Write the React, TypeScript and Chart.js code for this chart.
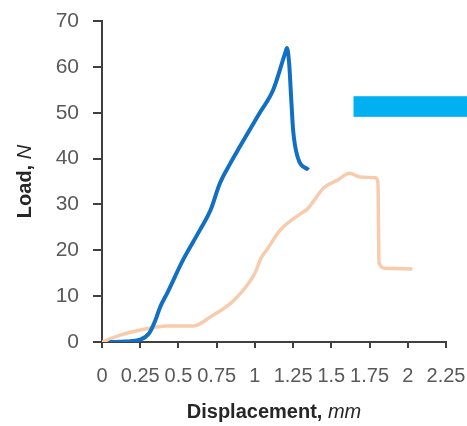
import React, { useEffect, useRef } from "react";
import { Chart, registerables } from "chart.js";

Chart.register(...registerables);

// Series A (blue): displacement (mm) / load (N)
const blueX = [0.05, 0.15, 0.25, 0.31, 0.35, 0.38, 0.43, 0.53, 0.64, 0.71, 0.77, 0.84, 0.9, 1.03, 1.12, 1.2, 1.21, 1.224, 1.237, 1.25, 1.28, 1.35];
const blueY = [0, 0.1, 0.5, 2, 4.8, 7.6, 10.9, 17.9, 24.4, 28.8, 34.5, 39, 42.5, 49.9, 55, 63.2, 64.1, 60.8, 53.4, 46.2, 40.3, 37.5];

// Series B (peach)
const peachX = [0, 0.12, 0.31, 0.42, 0.6, 0.71, 0.86, 1.0, 1.04, 1.08, 1.165, 1.3, 1.34, 1.45, 1.54, 1.62, 1.69, 1.79, 1.805, 1.812, 1.85, 2.03];
const peachY = [0, 1.5, 3, 3.5, 3.5, 5.5, 9, 15, 18.3, 20.2, 24.4, 28, 28.9, 33.6, 35.3, 36.8, 36, 35.8, 34.7, 17.2, 16.1, 15.9];

// Axis config
const xMin = 0;
const xMax = 2.25;
const xStep = 0.25;
const yMin = 0;
const yMax = 70;
const yStep = 10;

// Titles
const yTitleMain = "Load, ";
const yTitleUnit = "N";
const xTitleMain = "Displacement, ";
const xTitleUnit = "mm";

// Cyan marker block (data coords): x start, y low, y high
const markerBlock = [1.645, 49.1, 53.6];

const FONT = '"Liberation Sans", Arial, sans-serif';

const toPts = (xs: number[], ys: number[]) => xs.map((x, i) => ({ x, y: ys[i] }));

export default function App() {
  const ref = useRef<HTMLCanvasElement | null>(null);

  useEffect(() => {
    if (!ref.current) return;

    const overlay = {
      id: "overlay",
      afterDraw(chart: any) {
        const ctx = chart.ctx;
        const xs = chart.scales.x;
        const ys = chart.scales.y;
        ctx.save();
        const bx = xs.getPixelForValue(markerBlock[0]);
        const by1 = ys.getPixelForValue(markerBlock[2]);
        const by2 = ys.getPixelForValue(markerBlock[1]);
        ctx.fillStyle = "#00B0F0";
        ctx.fillRect(bx, by1, chart.width - bx, by2 - by1);

        const drawMixed = (main: string, unit: string, cx: number, cy: number, rot: number) => {
          ctx.save();
          ctx.translate(cx, cy);
          ctx.rotate(rot);
          ctx.textBaseline = "middle";
          ctx.textAlign = "left";
          ctx.fillStyle = "#262626";
          const fMain = `bold 20px ${FONT}`;
          const fUnit = `italic 20px ${FONT}`;
          ctx.font = fMain;
          const w1 = ctx.measureText(main).width;
          ctx.font = fUnit;
          const w2 = ctx.measureText(unit).width;
          const start = -(w1 + w2) / 2;
          ctx.font = fMain;
          ctx.fillText(main, start, 0);
          ctx.font = fUnit;
          ctx.fillText(unit, start + w1, 0);
          ctx.restore();
        };
        const area = chart.chartArea;
        drawMixed(xTitleMain, xTitleUnit, (area.left + area.right) / 2, 412, 0);
        drawMixed(yTitleMain, yTitleUnit, 25, (area.top + area.bottom) / 2, -Math.PI / 2);
        ctx.restore();
      },
    };

    const chart = new Chart(ref.current, {
      type: "line",
      data: {
        datasets: [
          {
            data: toPts(blueX, blueY),
            borderColor: "#1170C4",
            borderWidth: 4,
            pointRadius: 0,
            cubicInterpolationMode: "monotone",
            fill: false,
          },
          {
            data: toPts(peachX, peachY),
            borderColor: "#F8CBAD",
            borderWidth: 3.5,
            pointRadius: 0,
            cubicInterpolationMode: "monotone",
            fill: false,
          },
        ],
      },
      options: {
        responsive: false,
        animation: false,
        layout: { padding: { left: 0, right: 21, top: 21, bottom: 0 } },
        plugins: { legend: { display: false }, tooltip: { enabled: false } },
        scales: {
          x: {
            type: "linear",
            min: xMin,
            max: xMax,
            afterFit: (s: any) => {
              s.height = 84;
              s.paddingLeft = 0;
              s.paddingRight = 0;
            },
            border: { color: "#404040", width: 2 },
            grid: { drawOnChartArea: false, drawTicks: true, tickLength: 6, tickColor: "#404040", lineWidth: 2 },
            ticks: {
              stepSize: xStep,
              autoSkip: false,
              maxRotation: 0,
              minRotation: 0,
              padding: 16,
              color: "#595959",
              font: { family: FONT, size: 20 },
              callback: (v: any) => String(Number(Number(v).toFixed(2))),
            },
          },
          y: {
            type: "linear",
            min: yMin,
            max: yMax,
            afterFit: (s: any) => {
              s.width = 102;
              s.paddingTop = 0;
              s.paddingBottom = 0;
            },
            border: { color: "#404040", width: 2 },
            grid: { drawOnChartArea: false, drawTicks: true, tickLength: 9, tickColor: "#404040", lineWidth: 2 },
            ticks: {
              stepSize: yStep,
              padding: 14,
              color: "#595959",
              font: { family: FONT, size: 21 },
            },
          },
        },
      },
      plugins: [overlay],
    });
    return () => chart.destroy();
  }, []);

  return (
    <div style={{ position: "fixed", left: 0, top: 0, width: 467, height: 426, background: "#fff" }}>
      <canvas ref={ref} width={467} height={426} style={{ display: "block" }} />
    </div>
  );
}
